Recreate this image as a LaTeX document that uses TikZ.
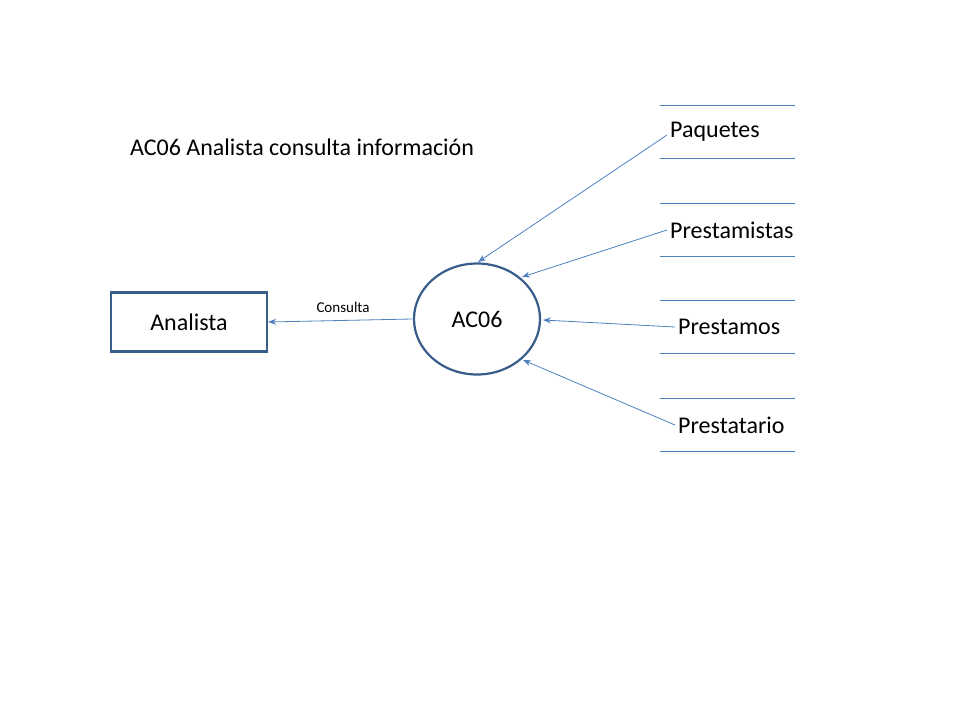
\documentclass[tikz,border=0pt]{standalone}
\usepackage{fontspec}
\setmainfont{Carlito}
\usetikzlibrary{arrows.meta,shapes.geometric}
\definecolor{ln}{HTML}{4F81BD}
\definecolor{bd}{HTML}{385D8A}
\begin{document}
\begin{tikzpicture}[x=1pt,y=-1pt,
  flow/.style={draw=ln,line width=0.8pt,-{Stealth[length=8pt,width=6pt]}},
  storeline/.style={draw=ln,line width=0.8pt},
  lbl/.style={font=\fontsize{24}{28}\selectfont,anchor=west,inner sep=0pt}]
\useasboundingbox (0,0) rectangle (960,720);
\node[font=\fontsize{24}{28}\selectfont,anchor=west,inner sep=0pt] (title) at (130,147) {AC06 Analista consulta información};
\node[draw=bd,line width=2.2pt,minimum width=156pt,minimum height=59pt,font=\fontsize{24}{28}\selectfont] (analista) at (189,322) {Analista};
\node[draw=bd,line width=2.2pt,ellipse,minimum width=126pt,minimum height=111pt,inner sep=0pt] (ac) at (477,319) {};
\node[font=\fontsize{24}{28}\selectfont] (actext) at (477,319) {AC06};
\foreach \n/\t/\y/\x in {paq/Paquetes/132/670,pmi/Prestamistas/230/670,pmo/Prestamos/327/678,pta/Prestatario/425/678}{
  \draw[storeline] (660,\y-27) -- (795,\y-27);
  \draw[storeline] (660,\y+26) -- (795,\y+26);
  \node[lbl] (\n) at (\x,\y) {\t};
}
\coordinate (c) at (412,319);
\draw[flow] (c) -- (analista.east);
\node[font=\fontsize{15}{18}\selectfont] (cons) at (343,307) {Consulta};
\draw[flow] ([xshift=-3pt,yshift=-3pt]paq.west) -- (478,262);
\draw[flow] ([xshift=-3pt]pmi.west) -- (522,277);
\draw[flow] ([xshift=-3pt]pmo.west) -- (543,320);
\draw[flow] ([xshift=-3pt]pta.west) -- (523,360);
\end{tikzpicture}
\end{document}
